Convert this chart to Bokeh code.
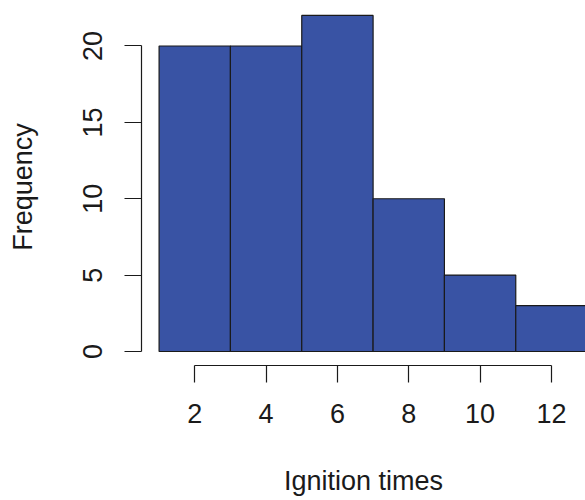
from bokeh.plotting import figure
from bokeh.models import FixedTicker, Range1d
from bokeh.embed import file_html
from bokeh.resources import INLINE

edges = [1, 3, 5, 7, 9, 11, 13]
counts = [20, 20, 22, 10, 5, 3]
x_ticks = [2, 4, 6, 8, 10, 12]
y_ticks = [0, 5, 10, 15, 20]

p = figure(width=585, height=500, output_backend="svg", toolbar_location=None,
           x_range=Range1d(0.507, 12.955), y_range=Range1d(-0.917, 22.455),
           min_border_left=141, min_border_right=0, min_border_top=8, min_border_bottom=135)
p.outline_line_color = None
p.grid.visible = False

p.quad(left=edges[:-1], right=edges[1:], bottom=0, top=counts,
       fill_color="#3953A4", line_color="#1a1a1a", line_width=1.2)

font = "Liberation Sans"
fs = "27px"
for ax, ticks, bounds in ((p.xaxis[0], x_ticks, (2, 12)), (p.yaxis[0], y_ticks, (0, 20))):
    ax.ticker = FixedTicker(ticks=ticks)
    ax.bounds = bounds
    ax.minor_tick_line_color = None
    ax.major_tick_in = 0
    ax.major_tick_out = 17
    ax.axis_line_width = 1.2
    ax.major_tick_line_width = 1.2
    ax.axis_line_color = "#1a1a1a"
    ax.major_tick_line_color = "#1a1a1a"
    ax.major_label_text_font = font
    ax.major_label_text_font_size = fs
    ax.major_label_text_color = "#1a1a1a"
    ax.axis_label_text_font = font
    ax.axis_label_text_font_size = fs
    ax.axis_label_text_font_style = "normal"
    ax.axis_label_text_color = "#1a1a1a"

p.yaxis.major_label_orientation = "vertical"
p.xaxis.major_label_standoff = 21
p.yaxis.major_label_standoff = 22
p.yaxis.axis_label = "Frequency"
p.yaxis.axis_label_standoff = 43
p.xaxis.axis_label = "Ignition times"
p.xaxis.axis_label_standoff = 40

open("out.html", "w").write(file_html(p, INLINE))
